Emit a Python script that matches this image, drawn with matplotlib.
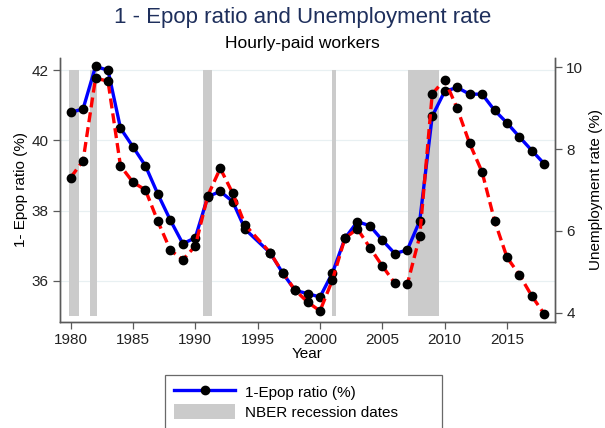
import numpy as np
import matplotlib
matplotlib.use('Agg')
import matplotlib.pyplot as plt
from matplotlib.lines import Line2D
from matplotlib.patches import Patch

plt.rcParams['font.family'] = ['Liberation Sans', 'DejaVu Sans']

# data (no point for 1995)
years = [1980, 1981, 1982, 1983, 1984, 1985, 1986, 1987, 1988, 1989,
         1990, 1991, 1992, 1993, 1994, 1996, 1997, 1998, 1999,
         2000, 2001, 2002, 2003, 2004, 2005, 2006, 2007, 2008, 2009,
         2010, 2011, 2012, 2013, 2014, 2015, 2016, 2017, 2018]
epop = [40.80, 40.90, 42.11, 42.00, 40.35, 39.82, 39.28, 38.47, 37.73, 37.06,
        37.23, 38.40, 38.55, 38.26, 37.47, 36.80, 36.23, 35.73, 35.64,
        35.54, 36.23, 37.21, 37.69, 37.57, 37.16, 36.78, 36.88, 37.71, 40.69,
        41.40, 41.51, 41.32, 41.32, 40.86, 40.50, 40.10, 39.71, 39.33]
unemp = [7.30, 7.72, 9.74, 9.66, 7.59, 7.19, 7.00, 6.23, 5.53, 5.29,
         5.63, 6.86, 7.53, 6.92, 6.14, 5.47, 4.98, 4.55, 4.26,
         4.04, 4.80, 5.82, 6.05, 5.59, 5.14, 4.72, 4.69, 5.87, 9.35,
         9.70, 9.00, 8.14, 7.44, 6.25, 5.35, 4.92, 4.40, 3.96]
rec_start = [1979.9, 1981.57, 1990.61, 2001.0, 2007.02]
rec_end = [1980.69, 1982.08, 1991.30, 2001.27, 2009.58]

fig = plt.figure(figsize=(6.05, 4.28), dpi=100)
ax = fig.add_axes([0.0992, 0.2477, 0.8182, 0.6168])
ax2 = ax.twinx()

spine_col = '#5a5a5a'
ax.set_xlim(1979.15, 2018.85)
ax.set_ylim(34.83, 42.35)
ax2.set_ylim(3.77, 10.23)

for s, e in zip(rec_start, rec_end):
    ax.fill_between([s, e], 35, 42, color='#cbcbcb', lw=0, zorder=1)

for v in [36, 38, 40, 42]:
    ax.axhline(v, color='#e8f0f2', lw=0.9, zorder=0)

ax.plot(years, epop, color='#0000ff', lw=2.4, marker='o', ms=6,
        mfc='black', mec='black', zorder=3)
ax2.plot(years, unemp, color='#ff0000', lw=2.4, dashes=(3, 1.5), marker='o',
         ms=6, mfc='black', mec='black', zorder=3)

ax.set_xticks(np.arange(1980, 2016, 5))
ax.set_yticks([36, 38, 40, 42])
ax2.set_yticks([4, 6, 8, 10])

for a in (ax, ax2):
    a.spines['top'].set_visible(False)
    for sp in ('left', 'right', 'bottom'):
        a.spines[sp].set_color(spine_col)
        a.spines[sp].set_linewidth(1.0)
    a.tick_params(colors='#222222', labelsize=11, length=5, width=0.9,
                  color=spine_col, pad=3)

ax.set_xlabel('Year', fontsize=11, labelpad=0)
ax.set_ylabel('1- Epop ratio (%)', fontsize=11, labelpad=3)
ax2.set_ylabel('Unemployment rate (%)', fontsize=11, labelpad=4)

fig.text(0.5, 0.959, '1 - Epop ratio and Unemployment rate', ha='center',
         va='center', fontsize=16, color='#1e2f5c')
fig.text(0.5, 0.898, 'Hourly-paid workers', ha='center', va='center',
         fontsize=12.5, color='black')

handles = [Line2D([0], [0], color='#0000ff', lw=2.4, marker='o', ms=6,
                  mfc='black', mec='black'),
           Patch(facecolor='#cbcbcb', edgecolor='none')]
leg = fig.legend(handles, ['1-Epop ratio (%)', 'NBER recession dates'],
                 loc='upper left', bbox_to_anchor=(0.2727, 0, 0.4579, 0.1238),
                 mode='expand', fontsize=11, frameon=True, fancybox=False,
                 ncol=1, handlelength=4.0, handleheight=1.1, borderpad=0.6,
                 labelspacing=0.3, handletextpad=0.65, numpoints=1,
                 borderaxespad=0)
leg.get_frame().set_edgecolor('#444444')
leg.get_frame().set_linewidth(0.9)

fig.savefig('out.png', dpi=100)
